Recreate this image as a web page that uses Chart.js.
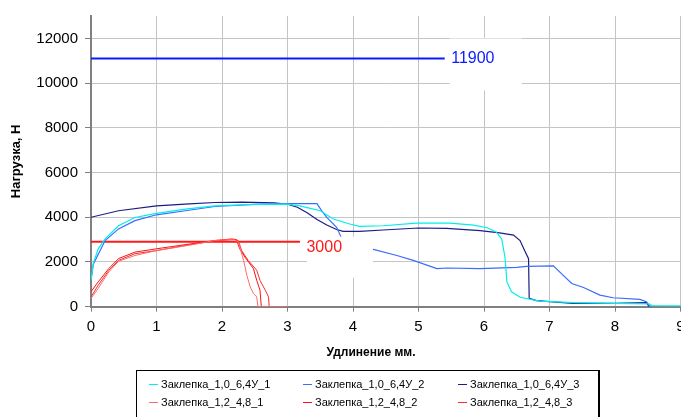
<!DOCTYPE html>
<html lang="ru">
<head>
<meta charset="utf-8">
<title>Нагрузка / удлинение</title>
<script src="https://cdn.jsdelivr.net/npm/chart.js@4/dist/chart.umd.min.js"></script>
<style>
    html, body {
        margin: 0;
        padding: 0;
        background: #ffffff;
        overflow: hidden;
        width: 681px;
        height: 417px;
    }
    #wrap {
        position: relative;
        width: 700px;
        height: 417px;
    }
    #legendBox {
        position: absolute;
        left: 136px;
        top: 370px;
        width: 461px;
        height: 70px;
        border: 1px solid #000000;
        border-right-width: 2px;
        font-family: Arial, "Liberation Sans", sans-serif;
        font-size: 11px;
        color: #000000;
    }
    .legend-item {
        position: absolute;
        white-space: nowrap;
        line-height: 12px;
    }
    .legend-item i {
        display: inline-block;
        width: 9px;
        height: 0;
        border-top: 1.5px solid;
        vertical-align: middle;
        margin-right: 3px;
        margin-top: -2px;
    }
</style>
</head>
<body>
<div id="wrap">
    <canvas id="rivetChart"></canvas>
    <div id="legendBox"></div>
</div>
<script>
// ==============================
//  DONNÉES
// ==============================

const seriesNames = [
    "Заклепка_1,0_6,4У_1",
    "Заклепка_1,0_6,4У_2",
    "Заклепка_1,0_6,4У_3",
    "Заклепка_1,2_4,8_1",
    "Заклепка_1,2_4,8_2",
    "Заклепка_1,2_4,8_3"
];

// Удлинение, мм / Нагрузка, Н
const cyanX = [0, 0.035, 0.11, 0.215, 0.42, 0.67, 1.0, 1.44, 1.89, 2.5, 3.0, 3.19, 3.3, 3.5, 3.7, 3.95, 4.1, 4.46, 4.97, 5.48, 5.84, 6.05, 6.19, 6.27, 6.32, 6.35, 6.42, 6.55, 6.85, 7.36, 8.0, 8.53, 8.56, 9.0];
const cyanY = [1180, 1940, 2590, 3030, 3620, 3990, 4170, 4360, 4510, 4580, 4590, 4510, 4430, 4290, 3920, 3700, 3590, 3620, 3740, 3740, 3650, 3530, 3330, 3030, 2220, 1110, 670, 420, 250, 180, 150, 120, 50, 40];

const blueX = [0, 0.035, 0.215, 0.42, 0.67, 1.0, 1.44, 1.89, 2.5, 3.0, 3.45, 3.52, 3.6, 3.75, 3.82, 4.31, 4.67, 4.92, 5.28, 5.43, 5.94, 6.5, 6.65, 7.06, 7.21, 7.34, 7.52, 7.77, 7.97, 8.38, 8.48, 8.53, 8.55];
const blueY = [1180, 1900, 2960, 3480, 3850, 4110, 4290, 4480, 4580, 4610, 4610, 4300, 3990, 3550, 3100, 2560, 2290, 2070, 1700, 1730, 1700, 1760, 1800, 1830, 1400, 1040, 860, 520, 400, 330, 220, 30, 0];

const navyX = [0, 0.42, 1.0, 1.5, 1.89, 2.3, 2.8, 3.0, 3.15, 3.3, 3.45, 3.6, 3.75, 3.85, 4.1, 4.46, 5.0, 5.43, 5.94, 6.24, 6.45, 6.55, 6.62, 6.68, 6.69, 6.8, 7.36, 8.0, 8.48, 8.52];
const navyY = [4000, 4290, 4510, 4600, 4660, 4680, 4640, 4580, 4450, 4200, 3900, 3650, 3450, 3370, 3370, 3430, 3520, 3500, 3400, 3300, 3200, 2960, 2510, 2150, 370, 270, 150, 150, 180, 0];

const red1X = [0, 0.11, 0.27, 0.42, 0.67, 1.0, 1.5, 1.89, 2.1, 2.2, 2.25, 2.33, 2.38, 2.43, 2.48, 2.53, 2.55, 3.0];
const red1Y = [370, 820, 1550, 2030, 2290, 2510, 2750, 2960, 3000, 2990, 2890, 2070, 1400, 890, 590, 440, 0, 0];

const red2X = [0, 0.11, 0.27, 0.42, 0.67, 1.0, 1.5, 1.89, 2.15, 2.22, 2.27, 2.35, 2.48, 2.53, 2.58, 2.6];
const red2Y = [670, 1110, 1700, 2150, 2440, 2590, 2800, 2960, 3030, 3000, 2590, 2220, 1700, 1180, 740, 0];

const red3X = [0, 0.11, 0.27, 0.42, 0.67, 1.0, 1.5, 1.89, 2.2, 2.25, 2.3, 2.4, 2.53, 2.58, 2.66, 2.71, 2.72];
const red3Y = [440, 960, 1620, 2070, 2370, 2510, 2770, 2940, 3010, 2950, 2510, 2070, 1630, 1180, 740, 440, 0];

// Линии уровней с подписями
const refHighX = [0, 5.4];
const refHighY = [11100, 11100];
const refHighLabel = "11900";

const refLowX = [0, 3.19];
const refLowY = [2910, 2910];
const refLowLabel = "3000";

// Оси
const xTicksMax = 9;
const yAxisMax = 13000;
const yTickValues = [0, 2000, 4000, 6000, 8000, 10000, 12000];

const yTitle = "Нагрузка, Н";
const xTitle = "Удлинение мм.";

// ==============================
//  OUTILS
// ==============================

function toPoints(xs, ys) {
    return xs.map(function (x, i) {
        return { x: x, y: ys[i] };
    });
}

function lineDataset(label, xs, ys, color, width) {
    return {
        label: label,
        data: toPoints(xs, ys),
        borderColor: color,
        backgroundColor: color,
        borderWidth: width,
        pointRadius: 0,
        showLine: true,
        tension: 0,
        fill: false
    };
}

const FONT = "Arial, 'Liberation Sans', sans-serif";

// Подписи линий уровня: белая подложка + текст
const refLabelPlugin = {
    id: "refLabels",
    afterDatasetsDraw: function (chart, args, opts) {
        const ctx = chart.ctx;
        const xs = chart.scales.x;
        const ys = chart.scales.y;
        opts.items.forEach(function (item) {
            const ds = chart.data.datasets[item.datasetIndex];
            const last = ds.data[ds.data.length - 1];
            const px = xs.getPixelForValue(last.x);
            const py = ys.getPixelForValue(last.y);
            ctx.save();
            ctx.fillStyle = "#ffffff";
            ctx.fillRect(px + item.box[0], py + item.box[1], item.box[2], item.box[3]);
            ctx.fillStyle = ds.borderColor;
            ctx.font = "16px " + FONT;
            ctx.textAlign = "left";
            ctx.textBaseline = "middle";
            ctx.fillText(item.text, px + item.dx, py + item.dy);
            ctx.restore();
        });
    }
};

// Заголовок оси X (смещён влево, как в исходнике)
const xTitlePlugin = {
    id: "xTitle",
    afterDraw: function (chart) {
        const ctx = chart.ctx;
        ctx.save();
        ctx.font = "bold 12px " + FONT;
        ctx.fillStyle = "#000000";
        ctx.textAlign = "center";
        ctx.textBaseline = "middle";
        ctx.fillText(xTitle, 371, 353);
        ctx.restore();
    }
};

// ==============================
//  GRAPHIQUE
// ==============================

const datasets = [
    lineDataset(seriesNames[0], cyanX, cyanY, "#00eeee", 1.2),
    lineDataset(seriesNames[1], blueX, blueY, "#3a6cff", 1.2),
    lineDataset(seriesNames[2], navyX, navyY, "#1c1c86", 1.2),
    lineDataset(seriesNames[3], red1X, red1Y, "#ff6a6a", 1),
    lineDataset(seriesNames[4], red2X, red2Y, "#ff1010", 1),
    lineDataset(seriesNames[5], red3X, red3Y, "#f03030", 1),
    lineDataset("ref11900", refHighX, refHighY, "#0a1aff", 2),
    lineDataset("ref3000", refLowX, refLowY, "#ff1a1a", 2)
];

const chart = new Chart(document.getElementById("rivetChart"), {
    type: "scatter",
    data: { datasets: datasets },
    plugins: [refLabelPlugin, xTitlePlugin],
    options: {
        responsive: true,
        maintainAspectRatio: false,
        animation: false,
        layout: {
            padding: { left: 0, top: 13.5, right: 19.5, bottom: 0 }
        },
        plugins: {
            legend: { display: false },
            tooltip: { enabled: false },
            refLabels: {
                items: [
                    { datasetIndex: 6, text: refHighLabel, dx: 6.5, dy: 0, box: [5, -20, 72, 52] },
                    { datasetIndex: 7, text: refLowLabel, dx: 6.5, dy: 5.5, box: [7, -5, 66, 41] }
                ]
            }
        },
        scales: {
            x: {
                type: "linear",
                min: 0,
                max: xTicksMax,
                afterFit: function (scale) {
                    scale.height = 110.3;
                },
                ticks: {
                    stepSize: 1,
                    color: "#000000",
                    padding: 6,
                    font: { family: FONT, size: 15 }
                },
                grid: {
                    color: "#c4c4c4",
                    lineWidth: 1,
                    tickColor: "#808080",
                    tickLength: 5
                },
                border: { color: "#808080", width: 2 }
            },
            y: {
                min: 0,
                max: yAxisMax,
                afterFit: function (scale) {
                    scale.width = 91;
                },
                // Деления только до 12000, хотя ось доходит до 13000
                afterBuildTicks: function (scale) {
                    scale.ticks = yTickValues.map(function (v) {
                        return { value: v };
                    });
                },
                ticks: {
                    color: "#000000",
                    padding: 7,
                    font: { family: FONT, size: 15 },
                    callback: function (value) {
                        return String(value);
                    }
                },
                grid: {
                    color: "#c4c4c4",
                    lineWidth: 1,
                    tickColor: "#808080",
                    tickLength: 6
                },
                border: { color: "#808080", width: 2 },
                title: {
                    display: true,
                    text: yTitle,
                    color: "#000000",
                    padding: { top: 9, bottom: 0 },
                    font: { family: FONT, size: 13, weight: "bold" }
                }
            }
        }
    }
});

// ==============================
//  LÉGENDE HTML
// ==============================

(function buildLegend() {
    const box = document.getElementById("legendBox");
    const colLeft = [12, 166, 321];
    const rowTop = [7, 25];
    for (let i = 0; i < seriesNames.length; i++) {
        const ds = chart.data.datasets[i];
        const item = document.createElement("div");
        item.className = "legend-item";
        item.style.left = colLeft[i % 3] + "px";
        item.style.top = rowTop[Math.floor(i / 3)] + "px";
        const mark = document.createElement("i");
        mark.style.borderTopColor = ds.borderColor;
        item.appendChild(mark);
        item.appendChild(document.createTextNode(ds.label));
        box.appendChild(item);
    }
})();
</script>
</body>
</html>
